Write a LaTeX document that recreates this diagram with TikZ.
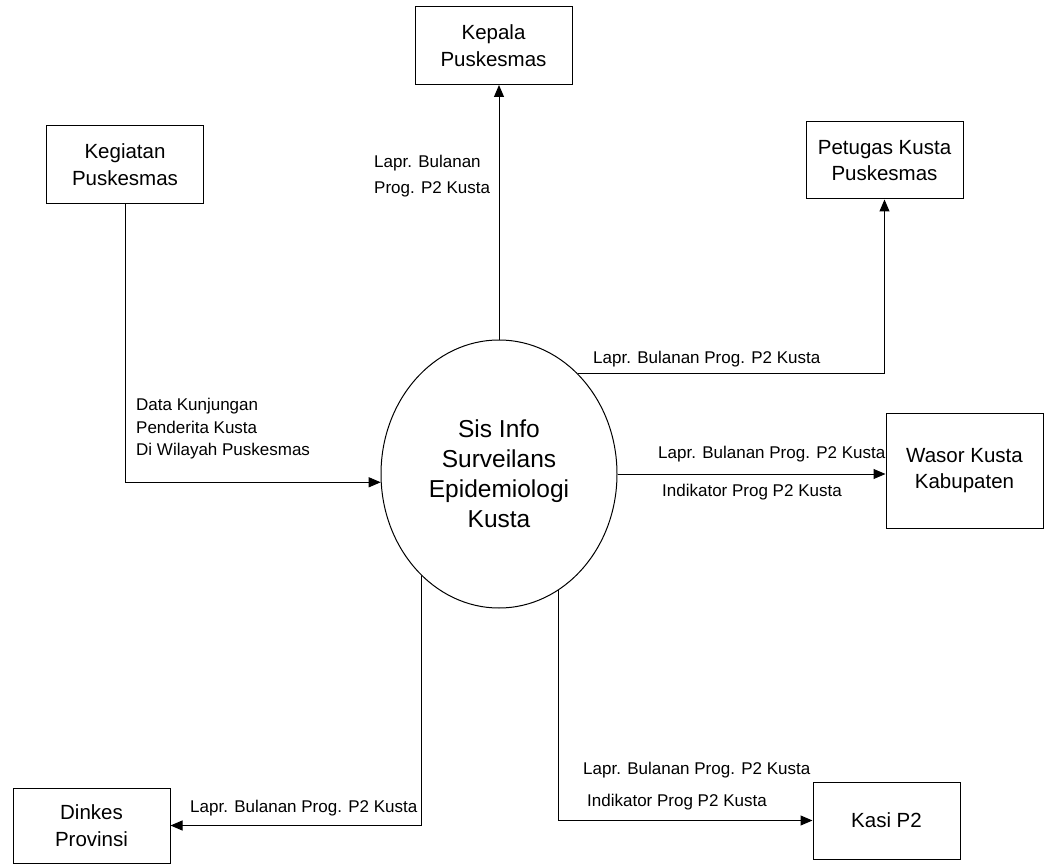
\documentclass[tikz,border=0pt]{standalone}
\usepackage{fontspec}
\setmainfont{Liberation Sans}
\usetikzlibrary{arrows.meta, shapes.geometric}

\begin{document}
\begin{tikzpicture}[x=1pt, y=-1pt,
  ent/.style={draw, line width=1pt, minimum width=157pt, minimum height=78pt,
              inner sep=0pt, align=center,
              font=\fontsize{20.5}{26.5}\selectfont},
  proc/.style={draw, ellipse, line width=1pt,
               minimum width=236pt, minimum height=268pt,
               inner sep=0pt, align=center,
               font=\fontsize{24.5}{30}\selectfont},
  lbl/.style={inner sep=0pt, align=left, font=\fontsize{17}{26}\selectfont},
  flow/.style={line width=1pt, -{Triangle[length=12pt,width=10pt]}}]
\useasboundingbox (0,0) rectangle (1045,864);

% proses dan entitas luar
\node[proc] (sis) at (499,474) {Sis Info\\Surveilans\\Epidemiologi\\Kusta};
\node[ent] (kep) at (493.5,45.5) {Kepala\\Puskesmas};
\node[ent] (keg) at (125,164.5) {Kegiatan\\Puskesmas};
\node[ent, minimum height=77pt] (pet) at (884.5,160.5) {Petugas Kusta\\Puskesmas};
\node[ent, minimum height=115pt] (was) at (964.5,470.5) {Wasor Kusta\\Kabupaten};
\node[ent, minimum height=75pt] (din) at (91.5,825.5) {Dinkes\\Provinsi};
\node[ent, minimum width=147pt, minimum height=77pt] (kas) at (886.5,820.5) {Kasi P2};

% aliran data
\draw[flow] (keg.south) |- (sis.184);
\draw[flow] (sis.north) -- (sis.north |- kep.south);
\draw[flow] (sis.52) -| (pet.south);
\draw[flow] (sis.east) -- (sis.east -| was.west);
\draw[flow] (sis.233) |- (din.east);
\draw[flow] (sis.297) |- (kas.west);

% label aliran
\node[lbl, anchor=north west] (kepl) at (374,155) {Lapr. Bulanan\\Prog. P2 Kusta};
\node[lbl, anchor=north west, font=\fontsize{17}{22.5}\selectfont] (kegl) at (136,398)
  {Data Kunjungan\\Penderita Kusta\\Di Wilayah Puskesmas};
\node[lbl, anchor=base west] (petl) at (593,363) {Lapr. Bulanan Prog. P2 Kusta};
\node[lbl, anchor=base west] (wasl) at (658,458) {Lapr. Bulanan Prog. P2 Kusta};
\node[lbl, anchor=base west] (wasind) at (662,496) {Indikator Prog P2 Kusta};
\node[lbl, anchor=base west] (dinl) at (190,812) {Lapr. Bulanan Prog. P2 Kusta};
\node[lbl, anchor=base west] (kasl) at (583,774) {Lapr. Bulanan Prog. P2 Kusta};
\node[lbl, anchor=base west] (kasind) at (587,806) {Indikator Prog P2 Kusta};
\end{tikzpicture}
\end{document}
